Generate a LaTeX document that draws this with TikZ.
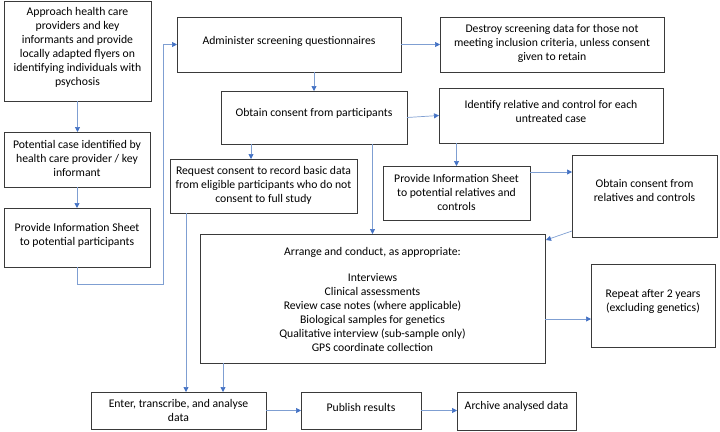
\documentclass[tikz,border=0pt]{standalone}
\usepackage{fontspec}
\setmainfont{Carlito}
\usetikzlibrary{arrows.meta,calc}
\definecolor{conncol}{HTML}{4472C4}
\definecolor{linecol}{HTML}{7F9FD2}
\definecolor{boxcol}{HTML}{3A3A3A}
\begin{document}
\begin{tikzpicture}[x=1pt,y=-1pt,
  box/.style={draw=boxcol,line width=0.9pt,inner sep=0pt,outer sep=0pt,rectangle},
  txt/.style={align=center,inner sep=0pt,font=\fontsize{11.7pt}{14pt}\selectfont},
  conn/.style={draw=linecol,line width=0.7pt,-{Triangle[length=5pt,width=5pt,color=conncol]}}]
\useasboundingbox (0,0) rectangle (720,431);
% boxes
\node[box,minimum width=147pt,minimum height=100pt] (A) at (77.5,51) {};
\node[txt] (At) at (77.5,47.5) {Approach health care\\providers and key\\informants and provide\\locally adapted flyers on\\identifying individuals with\\psychosis};
\node[box,minimum width=146pt,minimum height=55pt] (B) at (77,159.5) {};
\node[txt] (Bt) at (77,158) {Potential case identified by\\health care provider / key\\informant};
\node[box,minimum width=146pt,minimum height=59pt] (C) at (77,237.5) {};
\node[txt] (Ct) at (77,235) {Provide Information Sheet\\to potential participants};
\node[box,minimum width=224pt,minimum height=55pt] (D) at (289,44.5) {};
\node[txt] (Dt) at (289,41) {Administer screening questionnaires};
\node[box,minimum width=224pt,minimum height=55pt] (E) at (552,44.5) {};
\node[txt] (Et) at (552,43) {Destroy screening data for those not\\meeting inclusion criteria, unless consent\\given to retain};
\node[box,minimum width=186pt,minimum height=53pt] (F) at (314,117.5) {};
\node[txt] (Ft) at (314,113) {Obtain consent from participants};
\node[box,minimum width=224pt,minimum height=55pt] (G) at (551,115.5) {};
\node[txt] (Gt) at (551,111) {Identify relative and control for each\\untreated case};
\node[box,minimum width=147pt,minimum height=54pt] (H) at (456.5,193) {};
\node[txt] (Ht) at (456.5,192) {Provide Information Sheet\\to potential relatives and\\controls};
\node[box,minimum width=145pt,minimum height=82pt] (I) at (644.5,196) {};
\node[txt] (It) at (644.5,190.5) {Obtain consent from\\relatives and controls};
\node[box,minimum width=187pt,minimum height=54pt] (J) at (263.5,186) {};
\node[txt] (Jt) at (263.5,185) {Request consent to record basic data\\from eligible participants who do not\\consent to full study};
\node[box,minimum width=345pt,minimum height=129pt] (K) at (372.5,298.5) {};
\node[txt] (Kt) at (372.5,299.5) {Arrange and conduct, as appropriate:\\[12pt]Interviews\\Clinical assessments\\Review case notes (where applicable)\\Biological samples for genetics\\Qualitative interview (sub-sample only)\\GPS coordinate collection};
\node[box,minimum width=124pt,minimum height=83pt] (L) at (653,305.5) {};
\node[txt] (Lt) at (653,301) {Repeat after 2 years\\(excluding genetics)};
\node[box,minimum width=175pt,minimum height=37pt] (M) at (178.5,410.5) {};
\node[txt] (Mt) at (178.5,410.5) {Enter, transcribe, and analyse\\data};
\node[box,minimum width=120pt,minimum height=37pt] (N) at (361,410.5) {};
\node[txt] (Nt) at (361,407) {Publish results};
\node[box,minimum width=119pt,minimum height=38pt] (O) at (516.5,411) {};
\node[txt] (Ot) at (516.5,406) {Archive analysed data};
% helper coordinates
\coordinate (cC) at (163,284);
\coordinate (h1) at ([yshift=-6pt]H.north east);
\coordinate (i1) at ([yshift=6pt]I.south west);
\coordinate (k2) at ([xshift=1pt,yshift=-6pt]K.north east);
\coordinate (k1) at ([yshift=-20.5pt]K.east);
% connectors
\draw[conn] (A.south) -- (A.south |- B.north);
\draw[conn] (B.south) -- (C.north);
\draw[conn] (C.south) |- (cC) |- (D.west);
\draw[conn] (D.east) -- (E.west);
\draw[conn] (D.south -| F.north) -- (F.north);
\draw[conn] (F.east) -- (G.west);
\draw[conn] (G.south -| H.north) -- (H.north);
\draw[conn] (h1) -- (h1 -| I.west);
\draw[conn] (i1) -- (k2);
\draw[conn] ([xshift=-63pt]F.south) -- ([xshift=-12.5pt]J.north);
\draw[conn] (F.south -| K.north) -- (K.north);
\draw[conn] ([xshift=-77.5pt]J.south) -- ([xshift=7.5pt]M.north);
\draw[conn] ([xshift=-149.5pt]K.south) -- ([xshift=44.5pt]M.north);
\draw[conn] (k1) -- (k1 -| L.west);
\draw[conn] (M.east) -- (N.west);
\draw[conn] (N.east) -- (N.east -| O.west);
\end{tikzpicture}
\end{document}
